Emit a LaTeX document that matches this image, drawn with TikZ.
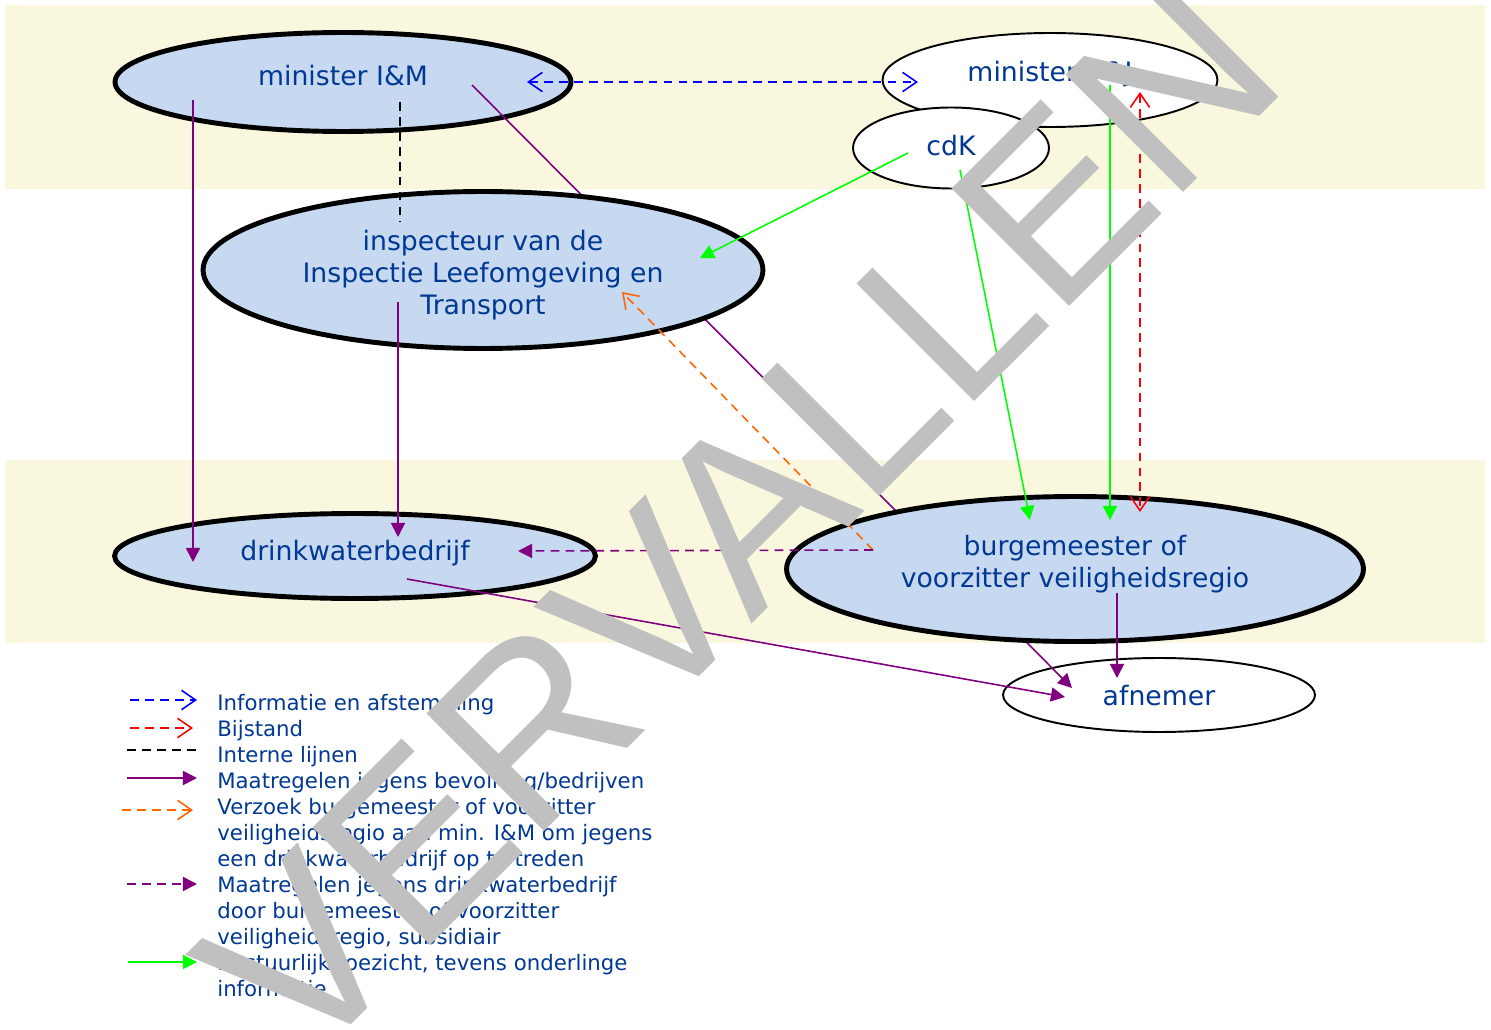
\documentclass[tikz,border=0pt]{standalone}
\usepackage{fontspec}
\setmainfont{DejaVu Sans}
\newfontfamily\stampfont{Liberation Sans}
\usepackage{xcolor}
\usetikzlibrary{shapes.geometric,arrows.meta}

\definecolor{bandbg}{RGB}{249,248,222}
\definecolor{ellfill}{RGB}{198,217,240}
\definecolor{txtblue}{RGB}{0,56,147}
\definecolor{stampgray}{RGB}{192,192,192}
\definecolor{lgreen}{RGB}{0,255,0}
\definecolor{lorange}{RGB}{255,102,0}
\definecolor{lpurple}{RGB}{128,0,128}

\begin{document}
\begin{tikzpicture}[x=0.02cm, y=-0.02cm,
    thickell/.style={draw, ellipse, line width=2.8pt, fill=ellfill, inner sep=0pt},
    thinell/.style={draw, ellipse, line width=1.1pt, fill=white, inner sep=0pt},
    lbl/.style={text=txtblue, inner sep=0pt, align=center, font=\fontsize{15.2}{18.4}\selectfont},
    conn/.style={line width=0.9pt},
    dsh/.style={dash pattern=on 5pt off 3.5pt},
    opentip/.style={-{Straight Barb[length=8pt,width=11pt]}},
    bothopen/.style={{Straight Barb[length=8pt,width=11pt]}-{Straight Barb[length=8pt,width=11pt]}},
    filltip/.style={-{Triangle[length=8pt,width=8pt]}},
    legtext/.style={anchor=north west, text=txtblue, inner sep=0pt, align=left, font=\fontsize{12.1}{14.74}\selectfont}]
    \useasboundingbox (0,0) rectangle (1491,1030);

    % bands
    \fill[bandbg] (5,5) rectangle (1485,189);
    \fill[bandbg] (5,460) rectangle (1485,643);

    % end points of the connectors
    \coordinate (infoIM) at (527,82);
    \coordinate (infoVJ) at (918,82);
    \coordinate (intA) at (400,102);
    \coordinate (intB) at (400,222);
    \coordinate (mimLeft) at (193,100);
    \coordinate (dwLeft) at (193,562);
    \coordinate (mimRight) at (472,85);
    \coordinate (afnA) at (1072,688);
    \coordinate (inspLow) at (398,302);
    \coordinate (dwTop) at (398,537);
    \coordinate (cdkA) at (908,153);
    \coordinate (inspRight) at (700,258);
    \coordinate (cdkB) at (960,170);
    \coordinate (bgmA) at (1030,520);
    \coordinate (mvjA) at (1110,85);
    \coordinate (bgmB) at (1110,520);
    \coordinate (mvjB) at (1140,92);
    \coordinate (bgmC) at (1140,512);
    \coordinate (bgmD) at (873,550);
    \coordinate (inspReq) at (622,292);
    \coordinate (dwRight) at (518,551);
    \coordinate (dwLow) at (407,579);
    \coordinate (afnB) at (1065,697);
    \coordinate (bgmLow) at (1117,593);
    \coordinate (afnC) at (1117,678);

    \node[thickell, minimum width=9.12cm, minimum height=1.98cm] (mIM) at (343,82) {};
    \node[lbl] (mIMtxt) at (343,76) {minister I\&M};
    \node[thinell, minimum width=6.7cm, minimum height=1.88cm] (mVJ) at (1050,80) {};
    \node[lbl] (mVJtxt) at (1050,74) {minister V\&J};
    \node[thinell, minimum width=3.92cm, minimum height=1.62cm] (cdK) at (951,148) {};
    \node[lbl] (cdKtxt) at (951,146) {cdK};
    \node[thinell, minimum width=6.24cm, minimum height=1.48cm] (afnemer) at (1159,695) {};
    \node[lbl] (afntxt) at (1159,696) {afnemer};
    \node[thickell, minimum width=9.62cm, minimum height=1.7cm] (dwb) at (355,556) {};
    \node[lbl] (dwbtxt) at (355,553) {drinkwaterbedrijf};

    \draw[conn, lpurple, filltip] (mimRight) -- (afnA);

    \node[thickell, minimum width=11.2cm, minimum height=3.14cm] (insp) at (483,270) {};
    \node[lbl] (insptxt) at (483,275) {inspecteur van de\\Inspectie Leefomgeving en\\Transport};
    \node[thickell, minimum width=11.54cm, minimum height=2.9cm] (bgm) at (1075,569) {};
    \node[lbl] (bgmtxt) at (1075,564) {burgemeester of\\voorzitter veiligheidsregio};

    \draw[conn, blue, dsh, bothopen] (infoIM) -- (infoVJ);
    \draw[conn, black, dsh] (intA) -- (intB);
    \draw[conn, lpurple, filltip] (mimLeft) -- (dwLeft);
    \draw[conn, lpurple, filltip] (inspLow) -- (dwTop);
    \draw[conn, lgreen, filltip] (cdkA) -- (inspRight);
    \draw[conn, lgreen, filltip] (cdkB) -- (bgmA);
    \draw[conn, lgreen, filltip] (mvjA) -- (bgmB);
    \draw[conn, red, dsh, bothopen] (mvjB) -- (bgmC);
    \draw[conn, lorange, dsh, opentip] (bgmD) -- (inspReq);
    \draw[conn, lpurple, dsh, filltip] (bgmD) -- (dwRight);
    \draw[conn, lpurple, filltip] (dwLow) -- (afnB);
    \draw[conn, lpurple, filltip] (bgmLow) -- (afnC);

    % legend
    \coordinate (k1a) at (130,700); \coordinate (k1b) at (197,700);
    \coordinate (k2a) at (130,728); \coordinate (k2b) at (193,728);
    \coordinate (k3a) at (127,750); \coordinate (k3b) at (199,750);
    \coordinate (k4a) at (127,778); \coordinate (k4b) at (197,778);
    \coordinate (k5a) at (122,810); \coordinate (k5b) at (193,810);
    \coordinate (k6a) at (127,884); \coordinate (k6b) at (197,884);
    \coordinate (k7a) at (128,962); \coordinate (k7b) at (197,962);
    \draw[conn, blue, dsh, opentip] (k1a) -- (k1b);
    \draw[conn, red, dsh, opentip] (k2a) -- (k2b);
    \draw[conn, black, dsh] (k3a) -- (k3b);
    \draw[conn, lpurple, filltip] (k4a) -- (k4b);
    \draw[conn, lorange, dsh, opentip] (k5a) -- (k5b);
    \draw[conn, lpurple, dsh, filltip] (k6a) -- (k6b);
    \draw[conn, lgreen, filltip] (k7a) -- (k7b);
    \node[legtext] (leg1) at (217,694) {Informatie en afstemming};
    \node[legtext] (leg2) at (217,720) {Bijstand};
    \node[legtext] (leg3) at (217,746) {Interne lijnen};
    \node[legtext] (leg4) at (217,772) {Maatregelen jegens bevolking/bedrijven};
    \node[legtext] (leg5) at (217,798) {Verzoek burgemeester of voorzitter\\veiligheidsregio aan min. I\&M om jegens\\een drinkwaterbedrijf op te treden};
    \node[legtext] (leg6) at (217,876) {Maatregelen jegens drinkwaterbedrijf\\door burgemeester of voorzitter\\veiligheidsregio, subsidiair};
    \node[legtext] (leg7) at (217,954) {Bestuurlijk toezicht, tevens onderlinge\\informatie};

    % stamp
    \node[anchor=base west, rotate=45, text=stampgray, inner sep=0pt, font=\stampfont\fontsize{137.5}{137.5}\selectfont] (stamp) at (302,1074) {VERVALLEN};
\end{tikzpicture}
\end{document}
